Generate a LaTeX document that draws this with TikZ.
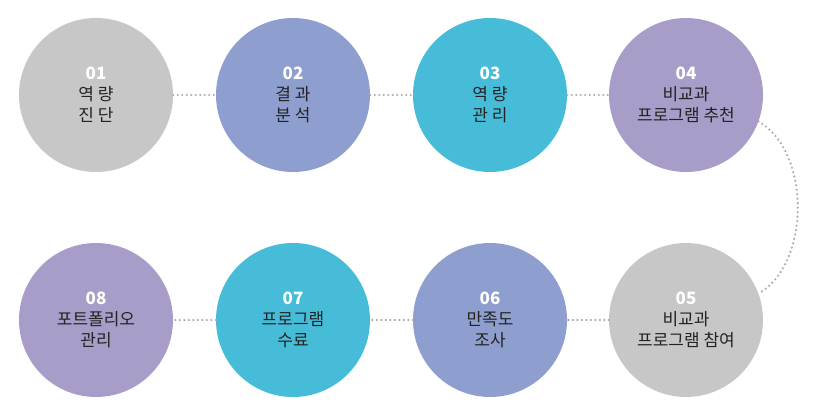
\documentclass[tikz,border=0pt]{standalone}
\usepackage{fontspec}
\setmainfont{Noto Sans CJK KR}
\usepackage{tikz}
\usetikzlibrary{positioning}
\definecolor{stepgray}{RGB}{199, 199, 199}
\definecolor{stepblue}{RGB}{142, 159, 207}
\definecolor{stepcyan}{RGB}{71, 188, 216}
\definecolor{steppurple}{RGB}{167, 157, 200}
\definecolor{dots}{RGB}{170, 170, 170}
\definecolor{ink}{RGB}{35, 35, 35}

\begin{document}
\begin{tikzpicture}[x=1pt, y=-1pt,
    step circle/.style={circle, minimum size=154pt, inner sep=0pt, align=center,
            font=\fontsize{17}{21}\selectfont, text=ink},
    link/.style={dots, line width=2.4pt, line cap=round, dash pattern=on 0pt off 4.5pt}]

    \useasboundingbox (0, 0) rectangle (822, 412);

    \node[step circle, fill=stepgray] (s1) at (96, 95) {\textcolor{white}{\textbf{01}}\\역 량\\진 단};
    \node[step circle, fill=stepblue] (s2) at (293, 95) {\textcolor{white}{\textbf{02}}\\결 과\\분 석};
    \node[step circle, fill=stepcyan] (s3) at (490, 95) {\textcolor{white}{\textbf{03}}\\역 량\\관 리};
    \node[step circle, fill=steppurple] (s4) at (686, 95) {\textcolor{white}{\textbf{04}}\\비교과\\프로그램 추천};

    \node[step circle, fill=stepgray] (s5) at (686, 320) {\textcolor{white}{\textbf{05}}\\비교과\\프로그램 참여};
    \node[step circle, fill=stepblue] (s6) at (490, 320) {\textcolor{white}{\textbf{06}}\\만족도\\조사};
    \node[step circle, fill=stepcyan] (s7) at (293, 320) {\textcolor{white}{\textbf{07}}\\프로그램\\수료};
    \node[step circle, fill=steppurple] (s8) at (96, 320) {\textcolor{white}{\textbf{08}}\\포트폴리오\\관리};

    \draw[link] (s1) -- (s2);
    \draw[link] (s2) -- (s3);
    \draw[link] (s3) -- (s4);
    \draw[link] (s4.-20) to[out=-30, in=30, looseness=0.9] (s5.20);
    \draw[link] (s5) -- (s6);
    \draw[link] (s6) -- (s7);
    \draw[link] (s7) -- (s8);

\end{tikzpicture}
\end{document}
